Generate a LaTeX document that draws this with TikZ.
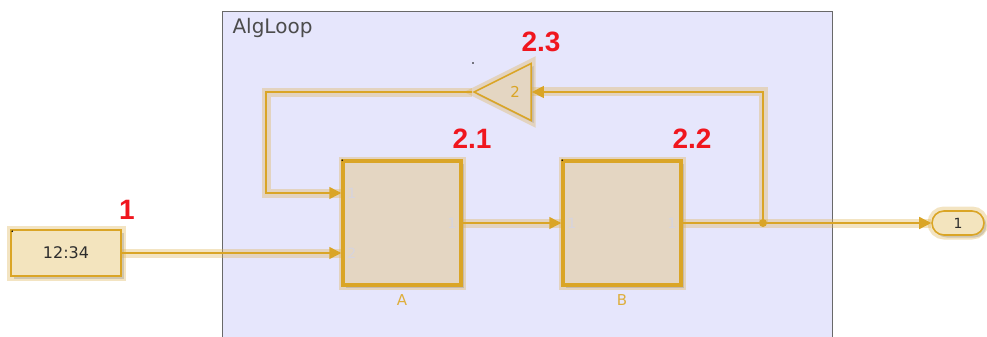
\documentclass[tikz,border=0pt]{standalone}
\usepackage{fontspec}
\setmainfont{DejaVu Sans}
\newfontfamily\stepfont{Liberation Sans}
\usepackage{tikz}
\usetikzlibrary{positioning,arrows.meta,calc,shapes.geometric,shapes.misc,shadows}
\definecolor{slGold}{RGB}{218,165,38}
\definecolor{slHalo}{RGB}{222,178,80}
\definecolor{slConst}{RGB}{243,228,190}
\definecolor{slBlock}{RGB}{228,214,194}
\definecolor{slLavender}{RGB}{230,230,252}
\definecolor{slFrame}{RGB}{105,105,105}
\definecolor{slPort}{RGB}{214,212,222}
\definecolor{slInk}{RGB}{45,45,45}
\definecolor{slRed}{RGB}{240,22,30}
\tikzset{
  subsys/.style   = {draw=slFrame, line width=1.2pt, fill=slLavender, inner sep=0pt},
  glow/.style     = {preaction={draw=slHalo, draw opacity=.35, line width=9pt}},
  shade/.style    = {drop shadow={shadow xshift=2.5pt, shadow yshift=-2.5pt, opacity=.3}},
  constbox/.style = {glow, shade, draw=slGold, line width=1.6pt, fill=slConst,
                     minimum width=110pt, minimum height=46pt, inner sep=0pt,
                     text=slInk, font=\fontsize{16}{18}\selectfont},
  sysblock/.style = {glow, shade, draw=slGold, line width=3.5pt, fill=slBlock,
                     minimum width=118pt, minimum height=124pt, inner sep=0pt},
  gainbox/.style  = {glow, shade, isosceles triangle, shape border rotate=180,
                     isosceles triangle stretches, draw=slGold, line width=1.6pt,
                     fill=slBlock, minimum width=57pt, minimum height=57pt, inner sep=0pt,
                     text=slGold, font=\fontsize{15}{17}\selectfont},
  outbox/.style   = {glow, shade, rounded rectangle, draw=slGold, line width=1.6pt,
                     fill=slConst, minimum width=52pt, minimum height=24pt, inner sep=0pt,
                     text=slInk, font=\fontsize{14}{16}\selectfont},
  wire/.style     = {draw=slGold, line width=1.5pt,
                     preaction={draw=slHalo, draw opacity=.35, line width=9pt, arrows=-}},
  sig/.style      = {wire, -{Triangle[length=12pt, width=12pt]}},
  portlbl/.style  = {text=slPort, font=\fontsize{14}{16}\selectfont, inner sep=1pt},
  blkname/.style  = {text=slGold!90, font=\fontsize{15}{17}\selectfont},
  steplbl/.style  = {text=slRed, font=\stepfont\bfseries\fontsize{28}{30}\selectfont, inner sep=0pt},
}

\begin{document}
\begin{tikzpicture}[x=1pt, y=-1pt]
  \useasboundingbox (0,0) rectangle (987,337);
  \clip (0,0) rectangle (987,337);

  % subsystem frame
  \node[subsys, minimum width=610pt, minimum height=340pt, anchor=north west] (algloop) at (222,11) {};
  \node[anchor=west, text=slInk!85, font=\fontsize{20}{22}\selectfont] (algname) at (229,28) {AlgLoop};

  % blocks
  \node[constbox] (clock) at (66,253) {12:34};
  \node[sysblock] (A) at (402,223) {};
  \node[sysblock] (B) at (622,223) {};
  \node[gainbox, anchor=apex] (gain) at (472,92) {2};
  \node[outbox] (out) at (958,223) {1};

  \node[blkname, below=4pt of A] (Aname) {A};
  \node[blkname, below=4pt of B] (Bname) {B};

  % port numbers
  \coordinate (inA1) at ($(A.west)+(0,-30)$);
  \coordinate (inA2) at ($(A.west)+(0,30)$);
  \node[portlbl, anchor=west] (pa1) at ($(inA1)+(5,0)$) {1};
  \node[portlbl, anchor=west] (pa2) at ($(inA2)+(5,0)$) {2};
  \node[portlbl, anchor=east] (pa3) at ($(A.east)+(-5,0)$) {1};
  \node[portlbl, anchor=west] (pb1) at ($(B.west)+(5,0)$) {1};
  \node[portlbl, anchor=east] (pb2) at ($(B.east)+(-5,0)$) {1};

  % corner marks
  \fill[black] ($(clock.north west)+(2,2)$) circle (0.9);
  \fill[black] ($(A.north west)+(1,1)$) circle (0.9);
  \fill[black] ($(B.north west)+(1,1)$) circle (0.9);
  \fill[black] (473,63) circle (0.9);

  % signals
  \coordinate (junc) at (763,223);
  \coordinate (fbk) at (266,92);
  \draw[sig] (clock.east) -- (inA2);
  \draw[sig] (A.east) -- (B.west);
  \draw[wire] (B.east) -- (junc);
  \draw[sig] (junc) -- (out.west);
  \draw[sig] (junc) |- (gain.east);
  \draw[sig] (gain.apex) -- (fbk) |- (inA1);
  \fill[slGold] (junc) circle (4);

  % execution order
  \node[steplbl] (o1) at (127,210) {1};
  \node[steplbl] (o21) at (472,139) {2.1};
  \node[steplbl] (o22) at (692,139) {2.2};
  \node[steplbl] (o23) at (541,42) {2.3};
\end{tikzpicture}
\end{document}
